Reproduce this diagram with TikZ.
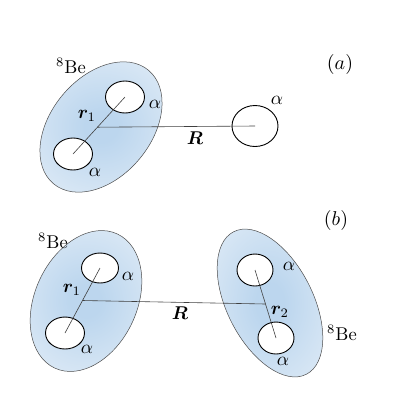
\documentclass[tikz,border=0pt]{standalone}
\usepackage{amsmath,bm}
\usetikzlibrary{shapes.geometric}
\definecolor{beblue}{RGB}{188,214,238}
\definecolor{berim}{RGB}{243,247,251}
\pgfdeclareradialshading{beshade}{\pgfpoint{0bp}{0bp}}{color(0bp)=(beblue); color(6bp)=(beblue); color(50bp)=(berim)}

\begin{document}
\begin{tikzpicture}[x=1pt,y=-1pt,
  lbl/.style={scale=1.85, inner sep=0pt},
  albl/.style={scale=1.9, inner sep=0pt},
  tag/.style={scale=2, inner sep=0pt},
  acirc/.style={ellipse, draw, fill=white, line width=0.9pt, inner sep=0pt, minimum width=39pt, minimum height=32pt},
  beedge/.style={shading=beshade, draw=black!70, line width=0.5pt},
  link/.style={draw=black!75, line width=0.6pt}]
  \useasboundingbox (0,0) rectangle (409,400);
  % (a): 8Be + alpha
  \begin{scope}[shift={(101,127)}, rotate=50] \shadedraw[beedge] (0,0) ellipse [x radius=74pt, y radius=50pt]; \end{scope}
  \node[acirc] (a1) at (125,97) {}; \node[acirc] (a2) at (73,154) {};
  \node[acirc, minimum width=46pt, minimum height=41pt] (a3) at (255,126) {};
  \draw[link] (a2.center) -- (a1.center) coordinate[pos=0.47] (m1); \draw[link] (m1) -- (a3.center);
  \node[tag] (tagA) at (340,64) {$(a)$}; \node[lbl] (beA) at (71,66) {$^{8}$Be};
  \node[albl] (alA1) at (155,104) {$\alpha$}; \node[albl] (alA2) at (95,172) {$\alpha$}; \node[albl] (alA3) at (277,100) {$\alpha$};
  \node[lbl] (rA) at (87,116) {$\bm{r}_1$}; \node[lbl] (RA) at (195,138) {$\bm{R}$};
  % (b): 8Be + 8Be
  \begin{scope}[shift={(86,301)}, rotate=65] \shadedraw[beedge] (0,0) ellipse [x radius=74pt, y radius=51pt]; \end{scope}
  \begin{scope}[shift={(270,303)}, rotate=-63] \shadedraw[beedge] (0,0) ellipse [x radius=80pt, y radius=43pt]; \end{scope}
  \node[acirc, minimum width=37pt, minimum height=30pt] (b1) at (100,268) {}; \node[acirc] (b2) at (65,333) {};
  \node[acirc, minimum width=36pt] (b3) at (255,270) {}; \node[acirc, minimum width=36pt] (b4) at (276,338) {};
  \draw[link] (b2.center) -- (b1.center) coordinate[midway] (m2); \draw[link] (b3.center) -- (b4.center) coordinate[midway] (m3);
  \draw[link] (m2) -- (m3);
  \node[tag] (tagB) at (336,220) {$(b)$}; \node[lbl] (beB1) at (53,241) {$^{8}$Be}; \node[lbl] (beB2) at (342,333) {$^{8}$Be};
  \node[albl] (alB1) at (128,276) {$\alpha$}; \node[albl] (alB2) at (87,349) {$\alpha$};
  \node[albl] (alB3) at (289,266) {$\alpha$}; \node[albl] (alB4) at (283,361) {$\alpha$};
  \node[lbl] (rB1) at (72,290) {$\bm{r}_1$}; \node[lbl] (rB2) at (280,312) {$\bm{r}_2$}; \node[lbl] (RB) at (180,313) {$\bm{R}$};
\end{tikzpicture}
\end{document}
